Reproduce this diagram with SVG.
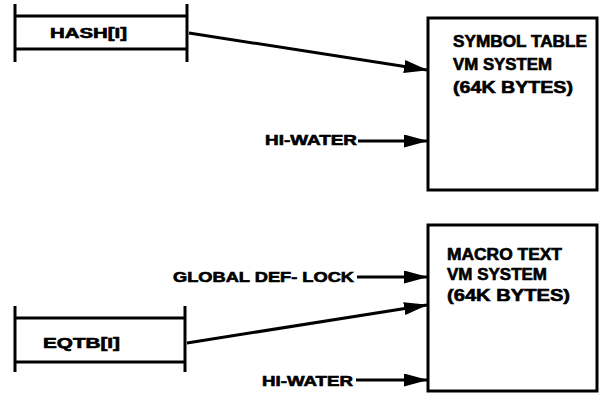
<svg xmlns="http://www.w3.org/2000/svg" width="600" height="394" viewBox="0 0 600 394">
<style>
.t{font-family:"Liberation Sans",Arial,sans-serif;font-weight:bold;fill:#000;stroke:#000;stroke-width:0.6;}
.box{fill:#fff;stroke:#000;stroke-width:3;}
.ln{stroke:#000;stroke-width:3;fill:none;}
.c{stroke:#000;stroke-width:3;fill:none;marker-end:url(#ah);}
</style>
<defs>
<marker id="ah" markerUnits="userSpaceOnUse" markerWidth="24" markerHeight="13" refX="23" refY="6.5" orient="auto">
<path d="M0,0 L24,6.5 L0,13 Z" fill="#000"/>
</marker>
</defs>
<rect width="600" height="394" fill="#fff"/>
<g id="hash">
<path class="ln" d="M15,4 V62 M187,4 V62 M15,16 H187 M15,49 H187"/>
<text class="t" x="50" y="38" font-size="14" textLength="77" lengthAdjust="spacingAndGlyphs">HASH[I]</text>
</g>
<g id="eqtb">
<path class="ln" d="M15,306 V372 M185,306 V372 M15,318 H185 M15,362 H185"/>
<text class="t" x="43" y="348" font-size="14" textLength="77" lengthAdjust="spacingAndGlyphs">EQTB[I]</text>
</g>
<g id="symtab">
<rect class="box" x="428" y="18" width="169" height="172"/>
<text class="t" x="453" y="47" font-size="16" textLength="134" lengthAdjust="spacingAndGlyphs">SYMBOL TABLE</text>
<text class="t" x="453" y="70" font-size="16" textLength="99" lengthAdjust="spacingAndGlyphs">VM SYSTEM</text>
<text class="t" x="453" y="93" font-size="16" textLength="120" lengthAdjust="spacingAndGlyphs">(64K BYTES)</text>
</g>
<g id="macro">
<rect class="box" x="428" y="225" width="169" height="166"/>
<text class="t" x="447" y="260" font-size="16" textLength="115" lengthAdjust="spacingAndGlyphs">MACRO TEXT</text>
<text class="t" x="447" y="280" font-size="16" textLength="100" lengthAdjust="spacingAndGlyphs">VM SYSTEM</text>
<text class="t" x="447" y="301" font-size="16" textLength="123" lengthAdjust="spacingAndGlyphs">(64K BYTES)</text>
</g>
<g id="labels">
<text class="t" x="265" y="145" font-size="14" textLength="92" lengthAdjust="spacingAndGlyphs">HI-WATER</text>
<text class="t" x="173" y="282" font-size="14" textLength="181" lengthAdjust="spacingAndGlyphs">GLOBAL DEF- LOCK</text>
<text class="t" x="262" y="386" font-size="14" textLength="91" lengthAdjust="spacingAndGlyphs">HI-WATER</text>
</g>
<g id="connectors">
<line class="c" x1="189" y1="33" x2="427" y2="70"/>
<line class="c" x1="358" y1="141" x2="427" y2="141"/>
<line class="c" x1="357" y1="277" x2="427" y2="277"/>
<line class="c" x1="187" y1="343" x2="427" y2="305"/>
<line class="c" x1="356" y1="380" x2="427" y2="380"/>
</g>
</svg>
